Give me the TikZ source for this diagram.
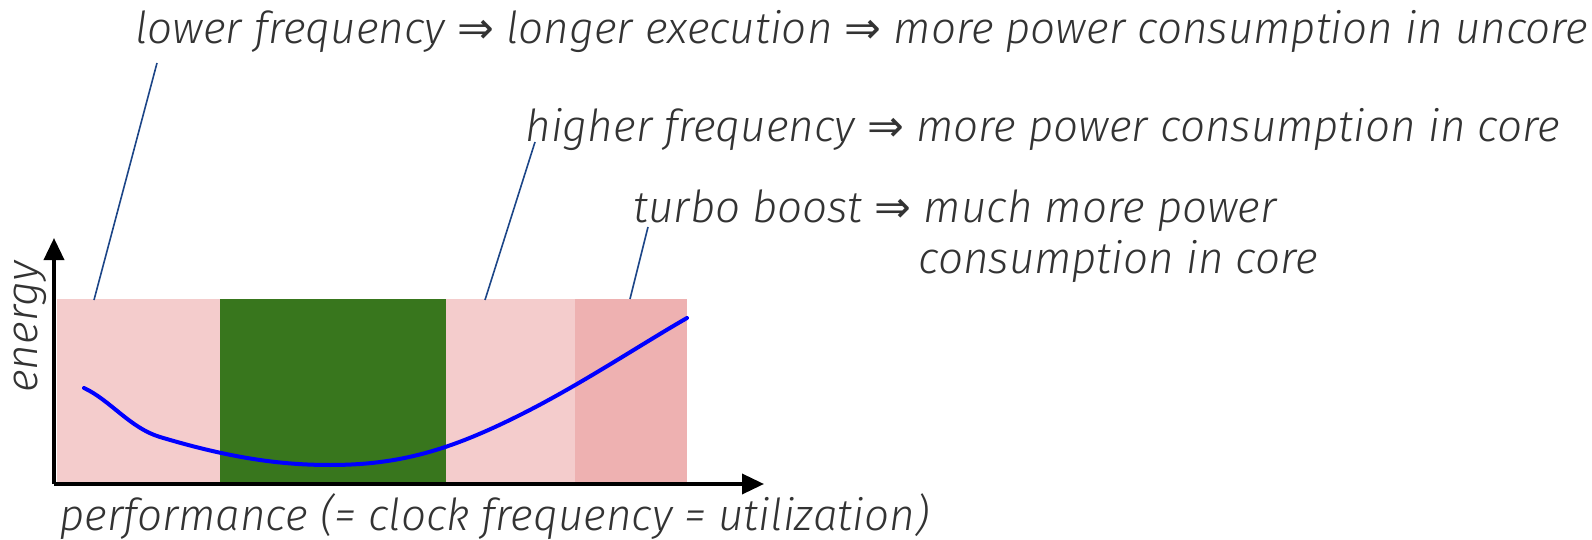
\documentclass[tikz,border=0pt]{standalone}
\usepackage{fontspec}
\setmainfont{Fira Sans}[UprightFont=* Light, ItalicFont=* Light Italic]
\newfontfamily\arrowfont{DejaVu Sans}
\newcommand\implies{{\arrowfont ⇒}}
\usetikzlibrary{arrows.meta}
\definecolor{txtgray}{HTML}{333333}
\definecolor{lowpink}{HTML}{F4CCCC}
\definecolor{turbopink}{HTML}{EEB1B1}
\definecolor{sweetgreen}{HTML}{38761D}
\definecolor{leaderblue}{HTML}{1C4587}
\definecolor{curveblue}{HTML}{0000FF}
\begin{document}
\begin{tikzpicture}[x=0.5pt,y=-0.5pt,
  lbl/.style={font=\fontsize{22}{26}\selectfont\itshape, text=txtgray, inner sep=0pt, anchor=base west},
  leader/.style={draw=leaderblue, line width=0.8pt},
  axis/.style={draw=black, line width=1.8pt, -{Triangle[length=11pt,width=10pt]}}]
\useasboundingbox (0,0) rectangle (1592,540);
% frequency ranges
\fill[lowpink]    (57,299) rectangle (220,482);
\fill[sweetgreen] (220,299) rectangle (446,482);
\fill[lowpink]    (446,299) rectangle (575,482);
\fill[turbopink]  (575,299) rectangle (687,482);
% energy curve
\draw[curveblue, line width=2pt, line cap=round]
  (84,388) .. controls (110,400) and (130,428) .. (160,437)
  .. controls (230,458) and (280,465) .. (330,465)
  .. controls (400,465) and (450,450) .. (520,415)
  .. controls (580,385) and (640,345) .. (687,318);
% axes
\coordinate (origin) at (54,484);
\coordinate (ytip) at (54,238);
\coordinate (xtip) at (764,484);
\draw[axis] (origin) -- (ytip);
\draw[axis] (origin) -- (xtip);
\node[lbl, anchor=base, rotate=90] (ylabel) at (38,327) {energy};
\node[lbl] (xlabel) at (59,530) {performance (= clock frequency = utilization)};
% annotations
\node[lbl] (lowtxt) at (135,44) {lower frequency \implies{} longer execution \implies{} more power consumption in uncore};
\node[lbl] (hightxt) at (525,141) {higher frequency \implies{} more power consumption in core};
\node[lbl] (turbotxt) at (633,222) {turbo boost \implies{} much more power};
\node[lbl] (turbotxt2) at (918,273) {consumption in core};
% leader lines
\coordinate (lowA) at (157,63);  \coordinate (lowB) at (94,300);
\coordinate (highA) at (535,142); \coordinate (highB) at (485,300);
\coordinate (turboA) at (648,227); \coordinate (turboB) at (630,299);
\draw[leader] (lowA) -- (lowB);
\draw[leader] (highA) -- (highB);
\draw[leader] (turboA) -- (turboB);
\end{tikzpicture}
\end{document}
